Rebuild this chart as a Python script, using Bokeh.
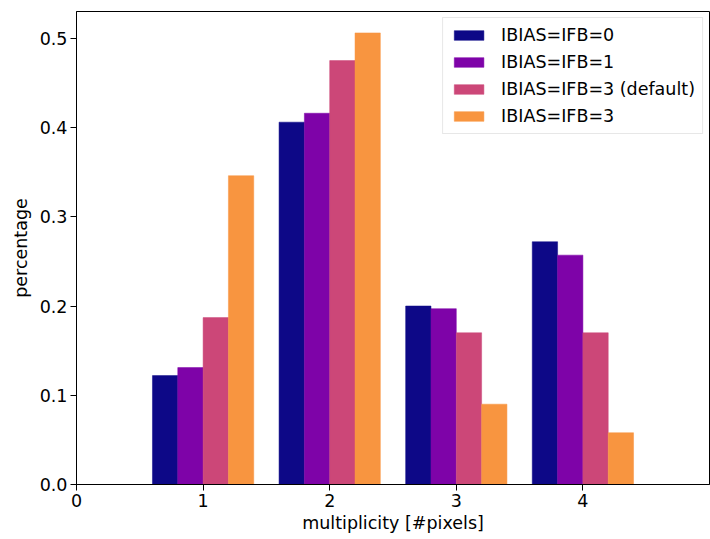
from bokeh.plotting import figure
from bokeh.models import ColumnDataSource, FixedTicker, Range1d, Legend, LegendItem, CustomJSTickFormatter
from bokeh.transform import dodge
from bokeh.embed import file_html
from bokeh.resources import INLINE

multiplicity = [1, 2, 3, 4]
labels = ["IBIAS=IFB=0", "IBIAS=IFB=1", "IBIAS=IFB=3 (default)", "IBIAS=IFB=3"]
ibias0 = [0.122, 0.406, 0.200, 0.272]
ibias1 = [0.131, 0.416, 0.197, 0.257]
ibias3_default = [0.187, 0.475, 0.170, 0.170]
ibias3 = [0.346, 0.506, 0.090, 0.058]
colors = ["#0d0887", "#7e03a8", "#cc4778", "#f89540"]
x_ticks = [0, 1, 2, 3, 4]
y_ticks = [0.0, 0.1, 0.2, 0.3, 0.4, 0.5]

src = ColumnDataSource(dict(x=multiplicity, s0=ibias0, s1=ibias1, s2=ibias3_default, s3=ibias3))

p = figure(width=710, height=539, output_backend="svg", toolbar_location=None,
           x_range=Range1d(0, 5), y_range=Range1d(0, 0.53),
           min_border_left=76, min_border_right=1, min_border_top=11, min_border_bottom=55)

font = "DejaVu Sans"
fs = "17.5px"
offsets = [-0.3, -0.1, 0.1, 0.3]
series = ["s0", "s1", "s2", "s3"]
items = []
for name, off, col, lab in zip(series, offsets, colors, labels):
    r = p.vbar(x=dodge("x", off), top=name, width=0.2, bottom=0, source=src,
               fill_color=col, line_color=col, line_width=0.5)
    items.append(LegendItem(label=lab, renderers=[r]))

legend = Legend(items=items, location="top_right", label_text_font=font,
                label_text_font_size=fs, label_text_color="black",
                glyph_width=37, glyph_height=12,
                label_height=20, spacing=7, padding=7, margin=6,
                border_line_color="#d0d0d0", border_line_width=1,
                background_fill_alpha=0.8, label_standoff=14)
p.add_layout(legend)

p.xgrid.visible = False
p.ygrid.visible = False
p.outline_line_color = "black"
p.outline_line_width = 1

p.xaxis.ticker = FixedTicker(ticks=x_ticks)
p.yaxis.ticker = FixedTicker(ticks=y_ticks)
p.yaxis.formatter = CustomJSTickFormatter(code="return tick.toFixed(1);")

for ax in (p.xaxis[0], p.yaxis[0]):
    ax.major_label_text_font = font
    ax.major_label_text_font_size = fs
    ax.major_label_text_color = "black"
    ax.axis_label_text_font = font
    ax.axis_label_text_font_size = fs
    ax.axis_label_text_font_style = "normal"
    ax.axis_label_text_color = "black"
    ax.axis_line_color = "black"
    ax.major_tick_line_color = "black"
    ax.major_tick_out = 6
    ax.major_tick_in = 0
    ax.minor_tick_line_color = None
    ax.major_label_standoff = 3

p.xaxis.axis_label = "multiplicity [#pixels]"
p.yaxis.axis_label = "percentage"
p.xaxis.axis_label_standoff = 3
p.yaxis.axis_label_standoff = 6

open("out.html", "w").write(file_html(p, INLINE))
